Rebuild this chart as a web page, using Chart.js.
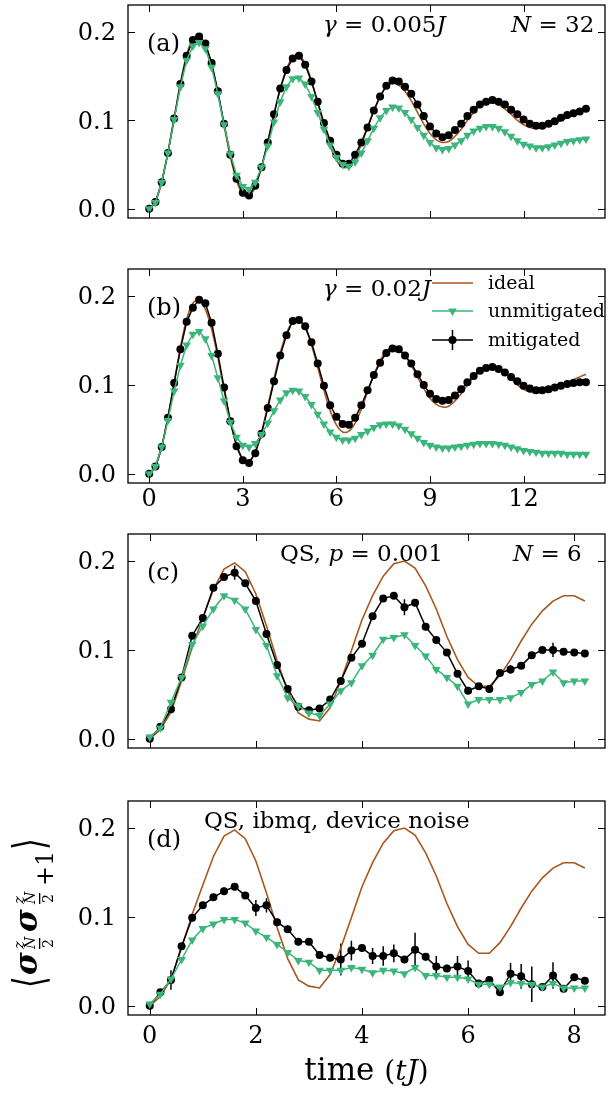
<!DOCTYPE html>
<html>
<head>
<meta charset="utf-8">
<script src="https://cdn.jsdelivr.net/npm/chart.js@4/dist/chart.umd.min.js"></script>
<style>
  body { margin: 0; background: #fff; width: 610px; height: 1093px; position: relative; overflow: hidden; }
  canvas { position: absolute; left: 0; }
</style>
</head>
<body>
<canvas id="panelA" width="610" height="250" style="top:0px"></canvas>
<canvas id="panelB" width="610" height="270" style="top:250px"></canvas>
<canvas id="panelC" width="610" height="245" style="top:520px"></canvas>
<canvas id="panelD" width="610" height="328" style="top:765px"></canvas>
<script>
// time grid of the N=32 runs, panels (a) and (b)
const tLong = [0, 0.2, 0.4, 0.6, 0.8, 1, 1.2, 1.4, 1.6, 1.8,
  2, 2.2, 2.4, 2.6, 2.8, 3, 3.2, 3.4, 3.6, 3.8,
  4, 4.2, 4.4, 4.6, 4.8, 5, 5.2, 5.4, 5.6, 5.8,
  6, 6.2, 6.4, 6.6, 6.8, 7, 7.2, 7.4, 7.6, 7.8,
  8, 8.2, 8.4, 8.6, 8.8, 9, 9.2, 9.4, 9.6, 9.8,
  10, 10.2, 10.4, 10.6, 10.8, 11, 11.2, 11.4, 11.6, 11.8,
  12, 12.2, 12.4, 12.6, 12.8, 13, 13.2, 13.4, 13.6, 13.8,
  14];

const idealLong = [0, 0.008, 0.030, 0.064, 0.103, 0.142, 0.174, 0.192, 0.195, 0.185,
  0.163, 0.131, 0.094, 0.059, 0.032, 0.016, 0.014, 0.025, 0.047, 0.076,
  0.107, 0.136, 0.158, 0.171, 0.173, 0.164, 0.145, 0.120, 0.094, 0.071,
  0.055, 0.047, 0.048, 0.057, 0.073, 0.092, 0.111, 0.127, 0.138, 0.142,
  0.140, 0.133, 0.122, 0.109, 0.096, 0.085, 0.078, 0.075, 0.076, 0.082,
  0.090, 0.100, 0.109, 0.116, 0.120, 0.120, 0.118, 0.113, 0.107, 0.100,
  0.095, 0.092, 0.091, 0.092, 0.094, 0.097, 0.100, 0.103, 0.106, 0.109,
  0.112];

// (a) gamma = 0.005J
const mitA = [0, 0.0075, 0.030, 0.063, 0.102, 0.141, 0.173, 0.191, 0.195, 0.187,
  0.165, 0.133, 0.096, 0.061, 0.034, 0.018, 0.015, 0.026, 0.047, 0.075,
  0.107, 0.136, 0.157, 0.170, 0.173, 0.163, 0.144, 0.121, 0.097, 0.077,
  0.061, 0.051, 0.051, 0.061, 0.075, 0.092, 0.111, 0.127, 0.139, 0.145,
  0.144, 0.138, 0.130, 0.118, 0.105, 0.093, 0.085, 0.081, 0.083, 0.089,
  0.096, 0.105, 0.112, 0.118, 0.121, 0.123, 0.121, 0.118, 0.112, 0.107,
  0.101, 0.096, 0.094, 0.094, 0.096, 0.099, 0.103, 0.106, 0.108, 0.110,
  0.113];
const unmitA = [0, 0.007, 0.030, 0.063, 0.101, 0.138, 0.168, 0.184, 0.188, 0.181,
  0.160, 0.130, 0.095, 0.062, 0.038, 0.025, 0.022, 0.030, 0.047, 0.071,
  0.098, 0.121, 0.138, 0.147, 0.148, 0.141, 0.127, 0.109, 0.090, 0.072,
  0.058, 0.050, 0.048, 0.053, 0.063, 0.077, 0.091, 0.103, 0.111, 0.115,
  0.114, 0.109, 0.101, 0.092, 0.083, 0.075, 0.069, 0.067, 0.068, 0.072,
  0.077, 0.083, 0.088, 0.091, 0.093, 0.093, 0.091, 0.087, 0.082, 0.077,
  0.073, 0.071, 0.069, 0.069, 0.070, 0.072, 0.074, 0.076, 0.077, 0.078,
  0.079];

// (b) gamma = 0.02J
const mitB = [0, 0.008, 0.030, 0.063, 0.102, 0.140, 0.171, 0.187, 0.196, 0.192,
  0.170, 0.135, 0.097, 0.059, 0.031, 0.015, 0.012, 0.023, 0.045, 0.074,
  0.104, 0.133, 0.156, 0.172, 0.173, 0.166, 0.148, 0.124, 0.099, 0.077,
  0.064, 0.056, 0.055, 0.063, 0.077, 0.094, 0.111, 0.125, 0.136, 0.141,
  0.140, 0.133, 0.124, 0.112, 0.100, 0.090, 0.084, 0.082, 0.083, 0.088,
  0.095, 0.103, 0.110, 0.116, 0.119, 0.120, 0.118, 0.114, 0.109, 0.104,
  0.099, 0.096, 0.094, 0.094, 0.095, 0.097, 0.099, 0.101, 0.102, 0.103,
  0.103];
const unmitB = [0, 0.008, 0.030, 0.060, 0.093, 0.122, 0.145, 0.157, 0.160, 0.152,
  0.133, 0.108, 0.082, 0.058, 0.041, 0.032, 0.030, 0.034, 0.044, 0.057,
  0.071, 0.083, 0.091, 0.094, 0.093, 0.087, 0.078, 0.067, 0.056, 0.047,
  0.041, 0.038, 0.038, 0.040, 0.044, 0.048, 0.052, 0.055, 0.056, 0.056,
  0.054, 0.050, 0.045, 0.040, 0.035, 0.032, 0.030, 0.029, 0.029, 0.030,
  0.031, 0.032, 0.033, 0.034, 0.034, 0.034, 0.033, 0.032, 0.030, 0.028,
  0.026, 0.025, 0.024, 0.023, 0.023, 0.023, 0.023, 0.022, 0.022, 0.022,
  0.022];

// time grid of the N=6 quantum simulation, panels (c) and (d)
const tShort = [0, 0.2, 0.4, 0.6, 0.8, 1, 1.2, 1.4, 1.6, 1.8,
  2, 2.2, 2.4, 2.6, 2.8, 3, 3.2, 3.4, 3.6, 3.8,
  4, 4.2, 4.4, 4.6, 4.8, 5, 5.2, 5.4, 5.6, 5.8,
  6, 6.2, 6.4, 6.6, 6.8, 7, 7.2, 7.4, 7.6, 7.8,
  8, 8.2];

const idealShort = [0, 0.010, 0.030, 0.065, 0.103, 0.136, 0.168, 0.191, 0.198, 0.188,
  0.163, 0.127, 0.088, 0.053, 0.029, 0.022, 0.020, 0.035, 0.065, 0.099,
  0.134, 0.161, 0.183, 0.197, 0.200, 0.192, 0.172, 0.146, 0.115, 0.089,
  0.069, 0.059, 0.059, 0.071, 0.089, 0.110, 0.129, 0.144, 0.155, 0.161,
  0.161, 0.155];

// (c) QS, p = 0.001
const mitC = [0, 0.0135, 0.033, 0.069, 0.116, 0.136, 0.170, 0.182, 0.187, 0.175,
  0.155, 0.118, 0.083, 0.056, 0.036, 0.032, 0.034, 0.044, 0.065, 0.091,
  0.107, 0.138, 0.158, 0.161, 0.148, 0.153, 0.126, 0.111, 0.097, 0.073,
  0.054, 0.059, 0.056, 0.074, 0.078, 0.082, 0.094, 0.100, 0.100, 0.098,
  0.097, 0.096];
const errC = [0.002, 0.002, 0.002, 0.002, 0.003, 0.003, 0.003, 0.003, 0.008, 0.003,
  0.003, 0.003, 0.003, 0.003, 0.003, 0.003, 0.003, 0.003, 0.003, 0.003,
  0.003, 0.003, 0.003, 0.003, 0.009, 0.003, 0.003, 0.003, 0.003, 0.003,
  0.003, 0.003, 0.003, 0.003, 0.005, 0.003, 0.004, 0.003, 0.008, 0.003,
  0.003, 0.003];
const unmitC = [0.002, 0.012, 0.041, 0.069, 0.106, 0.127, 0.146, 0.161, 0.156, 0.146,
  0.123, 0.105, 0.071, 0.046, 0.037, 0.029, 0.026, 0.039, 0.054, 0.063,
  0.082, 0.094, 0.112, 0.114, 0.117, 0.105, 0.093, 0.078, 0.069, 0.059,
  0.039, 0.044, 0.044, 0.044, 0.046, 0.052, 0.061, 0.065, 0.075, 0.063,
  0.065, 0.065];

// (d) QS, ibmq, device noise
const mitD = [0, 0.015, 0.029, 0.067, 0.099, 0.113, 0.122, 0.129, 0.134, 0.124,
  0.110, 0.113, 0.094, 0.086, 0.072, 0.072, 0.057, 0.054, 0.052, 0.062,
  0.065, 0.056, 0.056, 0.059, 0.052, 0.063, 0.055, 0.044, 0.042, 0.044,
  0.039, 0.025, 0.029, 0.015, 0.036, 0.033, 0.024, 0.021, 0.034, 0.019,
  0.032, 0.028];
const errD = [0.002, 0.003, 0.011, 0.004, 0.004, 0.004, 0.004, 0.004, 0.004, 0.004,
  0.009, 0.008, 0.004, 0.004, 0.004, 0.004, 0.004, 0.004, 0.018, 0.011,
  0.004, 0.009, 0.011, 0.010, 0.004, 0.019, 0.004, 0.012, 0.004, 0.012,
  0.012, 0.004, 0.004, 0.004, 0.012, 0.014, 0.020, 0.004, 0.015, 0.004,
  0.004, 0.004];
const unmitD = [0.002, 0.013, 0.030, 0.052, 0.074, 0.087, 0.092, 0.097, 0.097, 0.093,
  0.084, 0.077, 0.069, 0.060, 0.051, 0.049, 0.040, 0.040, 0.040, 0.043,
  0.041, 0.037, 0.040, 0.039, 0.036, 0.043, 0.034, 0.034, 0.032, 0.032,
  0.030, 0.024, 0.024, 0.021, 0.026, 0.025, 0.024, 0.021, 0.025, 0.020,
  0.020, 0.020];

const xTicksLong = [0, 3, 6, 9, 12];
const xLabelsLong = ['0', '3', '6', '9', '12'];
const xTicksShort = [0, 2, 4, 6, 8];
const xLabelsShort = ['0', '2', '4', '6', '8'];
const yTicks = [0, 0.1, 0.2];
const yTickLabels = ['0.0', '0.1', '0.2'];
const seriesNames = ['ideal', 'unmitigated', 'mitigated'];

const GREEN = '#3bb67a';
const BROWN = '#a8571f';
const SERIF = '"DejaVu Serif", "Liberation Serif", serif';

function pts(t, v) {
    return t.map((x, i) => ({ x: x, y: v[i] }));
}

// draws a run of text pieces [text, font] one after another on one baseline
function drawRich(ctx, parts, x, y, align) {
    let w = 0;
    parts.forEach(p => { ctx.font = p[1]; w += ctx.measureText(p[0]).width; });
    let cx = align === 'center' ? x - w / 2 : x;
    ctx.textAlign = 'left';
    ctx.textBaseline = 'alphabetic';
    parts.forEach(p => {
        ctx.font = p[1];
        ctx.fillText(p[0], cx, y);
        cx += ctx.measureText(p[0]).width;
    });
}

const R = (s) => s + 'px ' + SERIF;
const I = (s) => 'italic ' + s + 'px ' + SERIF;

function drawYLabel(ctx, bx, by) {
    ctx.save();
    ctx.translate(bx, by);
    ctx.rotate(-Math.PI / 2);
    ctx.fillStyle = '#000';
    ctx.textAlign = 'left';
    ctx.textBaseline = 'alphabetic';

    const bracket = (ch, x) => {
        ctx.save();
        ctx.font = '30px "DejaVu Sans", sans-serif';
        ctx.translate(x, -4);
        ctx.scale(1, 1.45);
        ctx.textBaseline = 'middle';
        ctx.fillText(ch, 0, 0);
        ctx.restore();
    };
    const stack = (x) => {
        ctx.font = I(15);
        ctx.fillText('z', x, -13);
        ctx.font = I(14);
        ctx.fillText('N', x, -2);
        ctx.fillRect(x, 2, 11, 1.3);
        ctx.font = R(14);
        ctx.fillText('2', x + 1, 16);
    };

    bracket('\u27E8', 0);
    ctx.font = 'bold italic 31px ' + SERIF;
    ctx.fillText('\u03C3', 13, 0);
    stack(39);
    ctx.font = 'bold italic 31px ' + SERIF;
    ctx.fillText('\u03C3', 56, 0);
    stack(84);
    ctx.font = R(24);
    ctx.fillText('+1', 102, 16);
    bracket('\u27E9', 138);
    ctx.restore();
}

function makePanel(id, p) {
    const canvas = document.getElementById(id);
    const ctx = canvas.getContext('2d');

    const decor = {
        id: 'decor',
        beforeDatasetsDraw(chart) {
            if (!p.err) return;
            const c = chart.ctx, a = chart.chartArea;
            const xs = chart.scales.x, ys = chart.scales.y;
            c.save();
            c.beginPath();
            c.rect(a.left, a.top, a.right - a.left, a.bottom - a.top);
            c.clip();
            c.strokeStyle = '#000';
            c.lineWidth = 1.5;
            c.beginPath();
            p.t.forEach((t, i) => {
                const px = xs.getPixelForValue(t);
                c.moveTo(px, ys.getPixelForValue(p.mit[i] - p.err[i]));
                c.lineTo(px, ys.getPixelForValue(p.mit[i] + p.err[i]));
            });
            c.stroke();
            c.restore();
        },
        afterDraw(chart) {
            const c = chart.ctx, a = chart.chartArea;
            const xs = chart.scales.x, ys = chart.scales.y;
            c.save();
            // inward ticks on all four sides
            c.strokeStyle = '#000';
            c.lineWidth = 1;
            c.beginPath();
            p.xTicks.forEach(v => {
                const px = Math.round(xs.getPixelForValue(v)) + 0.5;
                c.moveTo(px, a.bottom); c.lineTo(px, a.bottom - 7);
                c.moveTo(px, a.top); c.lineTo(px, a.top + 7);
            });
            yTicks.forEach(v => {
                const py = Math.round(ys.getPixelForValue(v)) + 0.5;
                c.moveTo(a.left, py); c.lineTo(a.left + 7, py);
                c.moveTo(a.right, py); c.lineTo(a.right - 7, py);
            });
            c.stroke();
            c.lineWidth = 1.3;
            c.strokeRect(a.left, a.top, a.right - a.left, a.bottom - a.top);

            // panel notes
            c.fillStyle = '#000';
            drawRich(c, [[p.tag, R(24)]], a.left + 19, a.top + 46);
            p.notes.forEach(n => drawRich(c, n.parts, a.left + n.dx, a.top + 27));

            if (p.legend) {
                const rows = [14, 42, 71];
                const x0 = a.left + 304, x1 = a.left + 345, xm = (x0 + x1) / 2;
                c.lineWidth = 1.5;
                // ideal
                c.strokeStyle = BROWN;
                c.beginPath(); c.moveTo(x0, a.top + rows[0]); c.lineTo(x1, a.top + rows[0]); c.stroke();
                // unmitigated
                c.strokeStyle = GREEN; c.fillStyle = GREEN;
                c.beginPath(); c.moveTo(x0, a.top + rows[1]); c.lineTo(x1, a.top + rows[1]); c.stroke();
                Chart.helpers.drawPoint(c, { pointStyle: 'triangle', radius: 5, rotation: 180, borderWidth: 0 }, xm, a.top + rows[1]);
                // mitigated
                c.strokeStyle = '#000'; c.fillStyle = '#000';
                c.beginPath();
                c.moveTo(x0, a.top + rows[2]); c.lineTo(x1, a.top + rows[2]);
                c.moveTo(xm, a.top + rows[2] - 10); c.lineTo(xm, a.top + rows[2] + 10);
                c.stroke();
                Chart.helpers.drawPoint(c, { pointStyle: 'circle', radius: 4, borderWidth: 0 }, xm, a.top + rows[2]);
                c.fillStyle = '#000';
                seriesNames.forEach((s, i) => drawRich(c, [[s, R(19)]], a.left + 360, a.top + rows[i] + 6));
            }
            if (p.extra) p.extra(c, a);
            c.restore();
        }
    };

    return new Chart(ctx, {
        type: 'line',
        data: {
            datasets: [
                { label: 'ideal', data: pts(p.t, p.ideal), borderColor: BROWN, borderWidth: 1.6,
                  pointRadius: 0, tension: p.smooth ? 0.35 : 0, order: 3 },
                { label: 'mitigated', data: pts(p.t, p.mit), borderColor: '#000', backgroundColor: '#000',
                  borderWidth: 1.5, pointRadius: 4, pointBackgroundColor: '#000', pointBorderWidth: 0, order: 2 },
                { label: 'unmitigated', data: pts(p.t, p.unmit), borderColor: GREEN, backgroundColor: GREEN,
                  borderWidth: 1.5, pointStyle: 'triangle', pointRotation: 180, pointRadius: 5,
                  pointBackgroundColor: GREEN, pointBorderWidth: 0, order: 1 }
            ]
        },
        options: {
            responsive: false,
            animation: false,
            events: [],
            layout: { padding: { top: p.padTop, right: 1, bottom: 0, left: 0 } },
            plugins: { legend: { display: false }, tooltip: { enabled: false } },
            scales: {
                x: {
                    type: 'linear', min: p.xMin, max: p.xMax,
                    grid: { display: false, drawTicks: false },
                    border: { display: false },
                    afterBuildTicks: s => { s.ticks = p.xTicks.map(v => ({ value: v })); },
                    afterFit: s => {
                        s.height = p.xAxisH;
                        s.paddingLeft = 0; s.paddingRight = 0;
                    },
                    ticks: {
                        display: p.showX, padding: p.xPad, color: '#000', maxRotation: 0, autoSkip: false,
                        font: { family: SERIF, size: 24 },
                        callback: v => p.xLabels[p.xTicks.indexOf(v)]
                    }
                },
                y: {
                    type: 'linear', min: -0.0105, max: 0.2305,
                    grid: { display: false, drawTicks: false },
                    border: { display: false },
                    afterBuildTicks: s => { s.ticks = yTicks.map(v => ({ value: v })); },
                    afterFit: s => {
                        s.width = 128;
                        s.paddingTop = 0; s.paddingBottom = 0;
                    },
                    ticks: {
                        padding: 12, labelOffset: 2, color: '#000',
                        font: { family: SERIF, size: 24 },
                        callback: v => yTickLabels[yTicks.indexOf(v)]
                    }
                }
            }
        },
        plugins: [decor]
    });
}

makePanel('panelA', {
    t: tLong, ideal: idealLong, mit: mitA, unmit: unmitA, smooth: true,
    xMin: -0.68, xMax: 14.61, xTicks: xTicksLong, xLabels: xLabelsLong, showX: false,
    padTop: 3, xAxisH: 32, xPad: 2, tag: '(a)',
    notes: [
        { dx: 195, parts: [['\u03B3', I(23)], [' = 0.005', R(23)], ['J', I(23)]] },
        { dx: 383, parts: [['N', I(23)], [' = 32', R(23)]] }
    ]
});

makePanel('panelB', {
    t: tLong, ideal: idealLong, mit: mitB, unmit: unmitB, smooth: true,
    xMin: -0.68, xMax: 14.61, xTicks: xTicksLong, xLabels: xLabelsLong, showX: true,
    padTop: 19, xAxisH: 37, xPad: 2, tag: '(b)', legend: true,
    notes: [
        { dx: 195, parts: [['\u03B3', I(23)], [' = 0.02', R(23)], ['J', I(23)]] }
    ]
});

makePanel('panelC', {
    t: tShort, ideal: idealShort, mit: mitC, unmit: unmitC, err: errC,
    xMin: -0.41, xMax: 8.58, xTicks: xTicksShort, xLabels: xLabelsShort, showX: false,
    padTop: 14, xAxisH: 17, xPad: 2, tag: '(c)',
    notes: [
        { dx: 152, parts: [['QS, ', R(23)], ['p', I(23)], [' = 0.001', R(23)]] },
        { dx: 385, parts: [['N', I(23)], [' = 6', R(23)]] }
    ]
});

makePanel('panelD', {
    t: tShort, ideal: idealShort, mit: mitD, unmit: unmitD, err: errD,
    xMin: -0.41, xMax: 8.58, xTicks: xTicksShort, xLabels: xLabelsShort, showX: true,
    padTop: 36, xAxisH: 78, xPad: 7, tag: '(d)',
    notes: [
        { dx: 76, parts: [['QS, ibmq, device noise', R(23)]] }
    ],
    extra: (c, a) => {
        drawRich(c, [['time ', R(31)], ['(', R(28)], ['tJ', I(28)], [')', R(28)]],
                 (a.left + a.right) / 2, a.bottom + 65, 'center');
        drawYLabel(c, 37, 223);
    }
});
</script>
</body>
</html>
